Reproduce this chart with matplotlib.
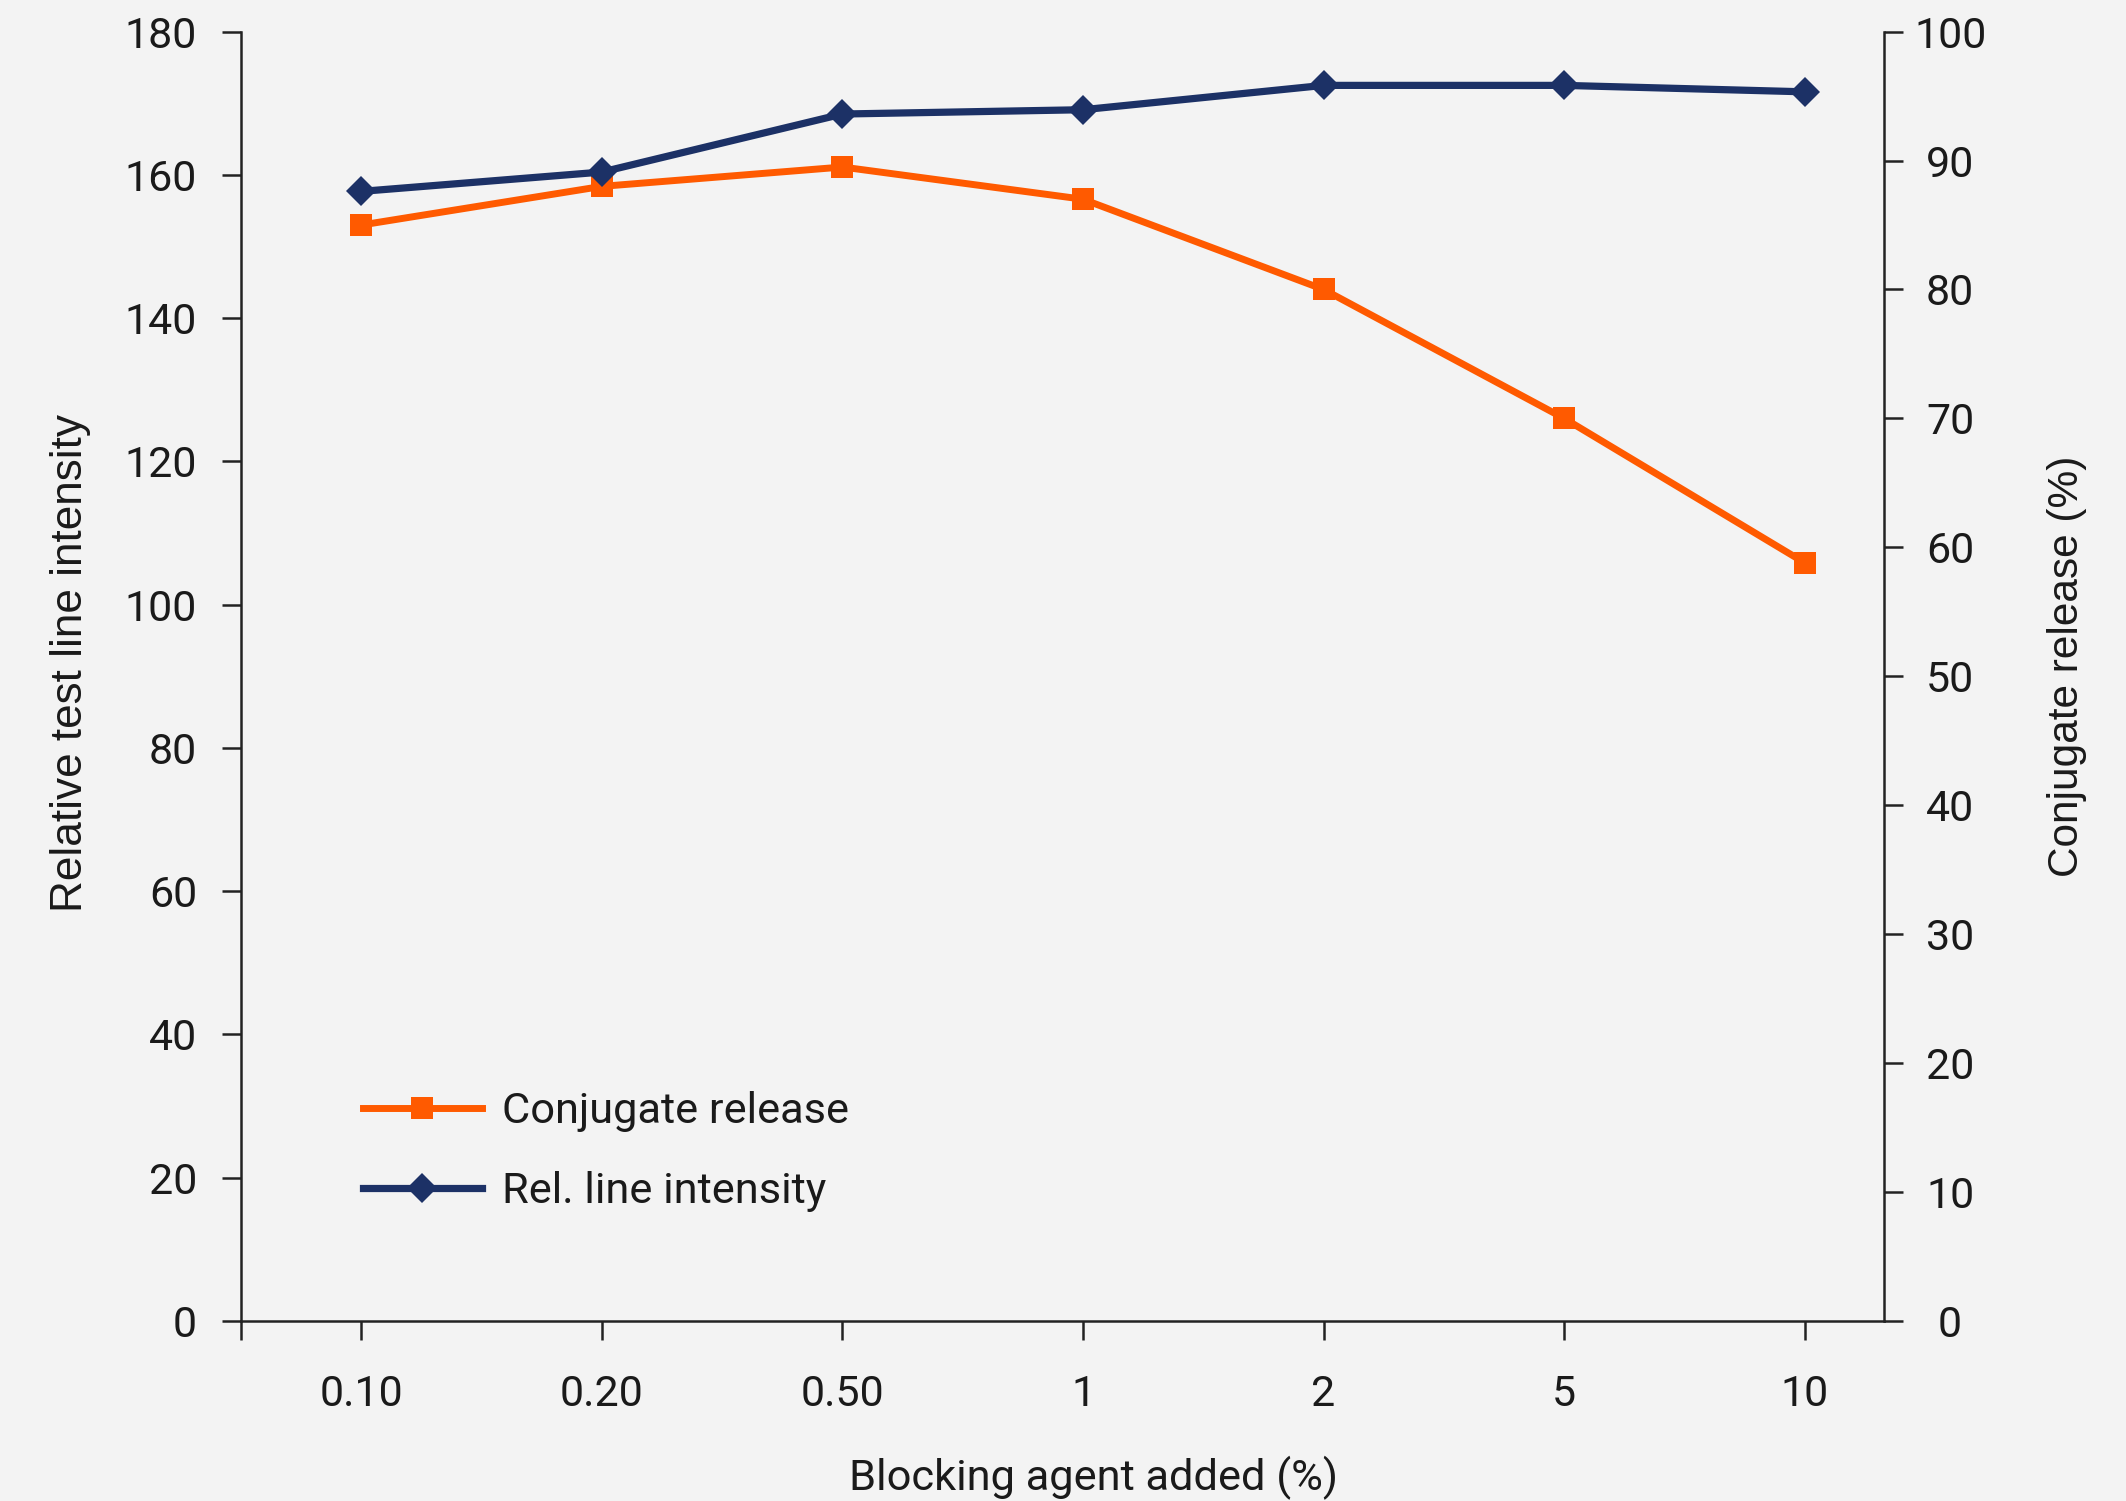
import matplotlib
matplotlib.use("Agg")
import matplotlib.pyplot as plt

plt.rcParams['font.family'] = ['Roboto', 'DejaVu Sans']

# data
categories = ['0.10', '0.20', '0.50', '1', '2', '5', '10']
conjugate_release = [85.0, 88.0, 89.5, 87.0, 80.0, 70.0, 58.8]        # %, right axis
rel_line_intensity = [157.7, 160.4, 168.5, 169.1, 172.5, 172.5, 171.6]  # left axis

bg = '#f3f3f3'
orange = '#ff5a00'
navy = '#1c3166'
ink = '#1a1a1a'

fig = plt.figure(figsize=(10.63, 7.505), dpi=200, facecolor=bg)
ax = fig.add_axes([0.1134, 0.1201, 0.7728, 0.8588])
ax2 = ax.twinx()
# navy line sits on top of orange one
ax.set_zorder(ax2.get_zorder() + 1)
ax.patch.set_visible(False)
ax2.patch.set_facecolor(bg)

x = list(range(len(categories)))
l2, = ax2.plot(x, conjugate_release, color=orange, lw=2.5, marker='s',
               ms=8.0, mew=0, label='Conjugate release')
l1, = ax.plot(x, rel_line_intensity, color=navy, lw=2.6, marker='D',
              ms=7.6, mew=0, label='Rel. line intensity')

ax.set_xlim(-0.5, 6.33)
ax.set_ylim(0, 180)
ax2.set_ylim(0, 100)
ax.set_yticks(range(0, 181, 20))
ax2.set_yticks(range(0, 101, 10))
ax.set_xticks([-0.5] + x, [''] + categories)

for a in (ax, ax2):
    for s in a.spines.values():
        s.set_color('#222222')
        s.set_linewidth(0.9)
    a.spines['top'].set_visible(False)
ax.spines['right'].set_visible(False)
ax2.spines['left'].set_visible(False)
ax2.spines['bottom'].set_visible(False)

ax.tick_params(axis='both', direction='out', length=6.8, width=0.9,
               color='#222222', labelcolor=ink, labelsize=15.5)
ax.tick_params(axis='y', pad=9)
ax.tick_params(axis='x', pad=12.5)
ax2.tick_params(axis='y', direction='out', length=6.8, width=0.9,
                color='#222222', labelcolor=ink, labelsize=15.5, pad=17)
for t in ax2.get_yticklabels():
    t.set_horizontalalignment('center')

ax.set_ylabel('Relative test line intensity', fontsize=15.9, color=ink,
              family=['Liberation Sans', 'DejaVu Sans'], va='center')
ax.yaxis.set_label_coords(-0.104, 0.51)
ax2.set_ylabel('Conjugate release (%)', fontsize=15.25, color=ink,
               family=['Liberation Sans', 'DejaVu Sans'], va='center',
               rotation=90)
ax2.yaxis.set_label_coords(1.1113, 0.508)
ax.set_xlabel('Blocking agent added (%)', fontsize=15.6, color=ink, va='center')
ax.xaxis.set_label_coords(0.519, -0.122)

leg = ax.legend(handles=[l2, l1], loc='center left',
                bbox_to_anchor=(0.074, 0.131), frameon=False,
                fontsize=15.6, handlelength=2.75, handletextpad=0.47,
                labelspacing=0.9, borderpad=0, borderaxespad=0)
for t in leg.get_texts():
    t.set_color(ink)

fig.savefig('out.png', dpi=200, facecolor=bg)
